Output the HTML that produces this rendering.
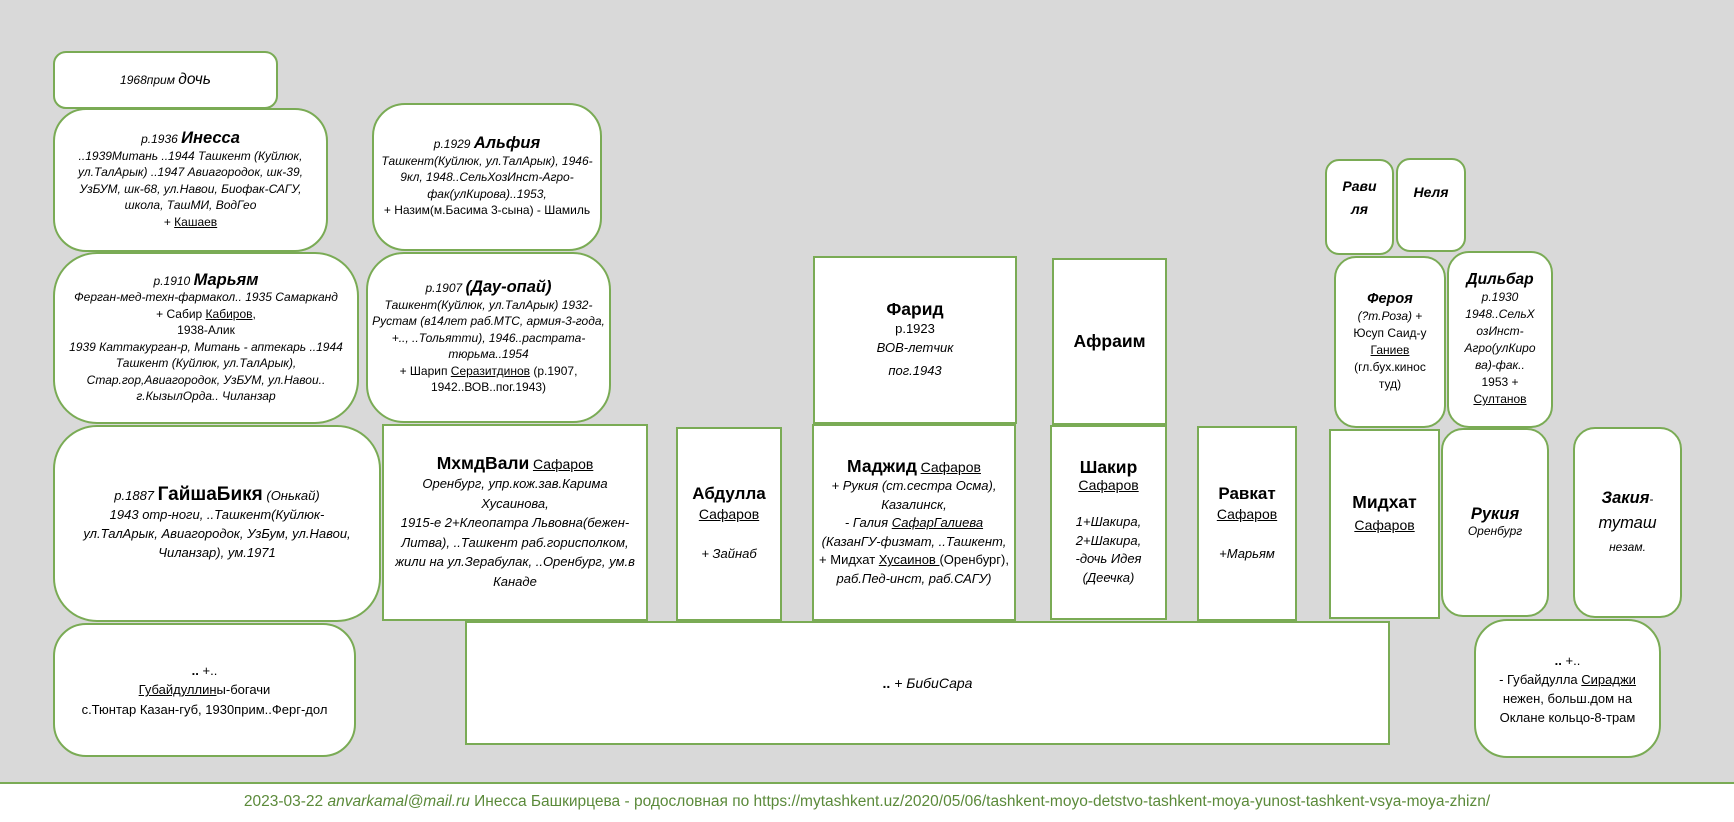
<!DOCTYPE html>
<html><head><meta charset="utf-8"><style>
body{margin:0;width:1734px;height:817px;background:#d9d9d9;position:relative;overflow:hidden;font-family:"Liberation Sans","DejaVu Sans",sans-serif;color:#000}
.b{position:absolute;box-sizing:border-box;background:#fff;border:2px solid #7aab55;display:flex;flex-direction:column;justify-content:center;align-items:center;text-align:center;font-size:12px;line-height:16.5px;padding:4px}
i{font-style:italic}
u{text-decoration:underline}
.t{font-weight:bold;font-style:italic;font-size:16.5px}
.s{font-size:14px}
</style></head><body>
<div class="b" style="left:53px;top:51px;width:225px;height:58px;border-radius:13px"><i>1968прим <span style="font-size:15.5px">дочь</span></i></div>
<div class="b" style="left:53px;top:108px;width:275px;height:144px;border-radius:33px"><div><i>р.1936 </i><span class="t">Инесса</span></div><i>..1939Митань ..1944 Ташкент (Куйлюк, ул.ТалАрык) ..1947 Авиагородок, шк-39, УзБУМ, шк-68, ул.Навои, Биофак-САГУ, школа, ТашМИ, ВодГео</i><div>+ <u>Кашаев</u></div></div>
<div class="b" style="left:372px;top:103px;width:230px;height:148px;border-radius:33px"><div><i>р.1929 </i><span class="t">Альфия</span></div><i>Ташкент(Куйлюк, ул.ТалАрык), 1946-9кл, 1948..СельХозИнст-Агро-фак(улКирова)..1953,</i><div>+ Назим(м.Басима 3-сына) - Шамиль</div></div>
<div class="b" style="left:53px;top:252px;width:306px;height:172px;border-radius:44px"><div><i>р.1910 </i><span class="t">Марьям</span></div><i>Ферган-мед-техн-фармакол.. 1935 Самарканд</i><div>+ Сабир <u>Кабиров</u>,</div><div>1938-Алик</div><i>1939 Каттакурган-р, Митань - аптекарь ..1944 Ташкент (Куйлюк, ул.ТалАрык), Стар.гор,Авиагородок, УзБУМ, ул.Навои.. г.КызылОрда.. Чиланзар</i></div>
<div class="b" style="left:366px;top:252px;width:245px;height:171px;border-radius:38px"><div><i>р.1907 </i><span class="t">(Дау-опай)</span></div><i>Ташкент(Куйлюк, ул.ТалАрык) 1932-Рустам (в14лет раб.МТС, армия-3-года, +.., ..Тольятти), 1946..растрата-тюрьма..1954</i><div>+ Шарип <u>Серазитдинов</u> (р.1907, 1942..ВОВ..пог.1943)</div></div>
<div class="b" style="left:53px;top:425px;width:328px;height:197px;border-radius:44px;font-size:13px;line-height:19px;padding:4px 20px"><div><i>р.1887 </i><b style="font-size:19px">ГайшаБикя</b><i> (Онькай)</i></div><i>1943 отр-ноги, ..Ташкент(Куйлюк-ул.ТалАрык, Авиагородок, УзБум, ул.Навои, Чиланзар), ум.1971</i></div>
<div class="b" style="left:382px;top:424px;width:266px;height:197px;font-size:13px;line-height:19.5px;padding:4px 10px"><div><b style="font-size:17.5px">МхмдВали</b> <u class="s">Сафаров</u></div><i>Оренбург, упр.кож.зав.Карима Хусаинова,<br>1915-е 2+Клеопатра Львовна(бежен-Литва), ..Ташкент раб.горисполком, жили на ул.Зерабулак, ..Оренбург, ум.в Канаде</i></div>
<div class="b" style="left:676px;top:427px;width:106px;height:194px;font-size:13px;line-height:20px"><b style="font-size:17px">Абдулла</b><u class="s">Сафаров</u><br><i>+ Зайнаб</i></div>
<div class="b" style="left:813px;top:256px;width:204px;height:168px;font-size:13px;line-height:19px"><b style="font-size:17.5px">Фарид</b><div>р.1923</div><i>ВОВ-летчик</i><div style="height:4px"></div><i>пог.1943</i></div>
<div class="b" style="left:812px;top:424px;width:204px;height:197px;font-size:13px;line-height:18.5px"><div><b style="font-size:17.5px">Маджид</b> <u class="s">Сафаров</u></div><i>+ Рукия (ст.сестра Осма), Казалинск,</i><i>- Галия <u>СафарГалиева</u> (КазанГУ-физмат, ..Ташкент,</i><div>+ Мидхат <u>Хусаинов </u>(Оренбург),</div><i>раб.Пед-инст, раб.САГУ)</i></div>
<div class="b" style="left:1052px;top:258px;width:115px;height:167px"><b style="font-size:17.5px">Афраим</b></div>
<div class="b" style="left:1050px;top:425px;width:117px;height:195px;font-size:13px;line-height:18.5px"><b style="font-size:17.5px">Шакир</b><u class="s">Сафаров</u><br><i>1+Шакира,<br>2+Шакира,<br>-дочь Идея (Деечка)</i></div>
<div class="b" style="left:1197px;top:426px;width:100px;height:195px;font-size:13px;line-height:20px"><b style="font-size:17px">Равкат</b><u class="s">Сафаров</u><br><i>+Марьям</i></div>
<div class="b" style="left:1329px;top:429px;width:111px;height:190px;justify-content:flex-start;padding-top:60px"><b style="font-size:17.5px;line-height:22px">Мидхат</b><u class="s" style="line-height:24px">Сафаров</u></div>
<div class="b" style="left:1325px;top:159px;width:69px;height:96px;border-radius:14px;justify-content:flex-start;padding-top:14px;font-size:14px;line-height:23px"><b><i>Рави<br>ля</i></b></div>
<div class="b" style="left:1396px;top:158px;width:70px;height:94px;border-radius:14px;justify-content:flex-start;padding-top:24px;font-size:14px"><b><i>Неля</i></b></div>
<div class="b" style="left:1334px;top:256px;width:112px;height:172px;border-radius:22px;line-height:17px;padding:4px 14px"><b><i style="font-size:14.5px">Фероя</i></b><div><i>(?т.Роза)</i> +<br>Юсуп Саид-у<br><u>Ганиев</u><br>(гл.бух.кинос туд)</div></div>
<div class="b" style="left:1447px;top:251px;width:106px;height:177px;border-radius:22px;line-height:17px;padding:4px 10px"><b><i style="font-size:15.5px">Дильбар</i></b><i>р.1930 1948..СельХ озИнст-Агро(улКиро ва)-фак..</i><div>1953 +</div><u>Султанов</u></div>
<div class="b" style="left:1441px;top:428px;width:108px;height:189px;border-radius:22px"><b><i style="font-size:16.5px">Рукия</i></b><i>Оренбург</i></div>
<div class="b" style="left:1573px;top:427px;width:109px;height:191px;border-radius:22px;line-height:24px"><div><b><i style="font-size:16.5px">Закия</i></b>-</div><i style="font-size:16.5px">туташ</i><i>незам.</i></div>
<div class="b" style="left:53px;top:623px;width:303px;height:134px;border-radius:33px;font-size:13px;line-height:19.5px"><div><b>..</b> +..</div><div><u>Губайдуллин</u>ы-богачи</div><div>с.Тюнтар Казан-губ, 1930прим..Ферг-дол</div></div>
<div class="b" style="left:465px;top:621px;width:925px;height:124px;font-size:14px"><div><b>..</b> <i>+ БибиСара</i></div></div>
<div class="b" style="left:1474px;top:619px;width:187px;height:139px;border-radius:33px;font-size:13px;line-height:19px"><div><b>..</b> +..</div><div>- Губайдулла <u>Сираджи</u> нежен, больш.дом на Оклане кольцо-8-трам</div></div>
<div style="position:absolute;left:0;top:782px;width:1734px;height:40px;background:#fff;border-top:2px solid #7aab55;box-sizing:border-box"></div>
<div style="position:absolute;left:0;top:793px;width:1734px;text-align:center;color:#5b8a3a;font-size:15.5px;white-space:nowrap">2023-03-22 <i>anvarkamal@mail.ru</i> Инесса Башкирцева - родословная по https://mytashkent.uz/2020/05/06/tashkent-moyo-detstvo-tashkent-moya-yunost-tashkent-vsya-moya-zhizn/</div>
</body></html>
